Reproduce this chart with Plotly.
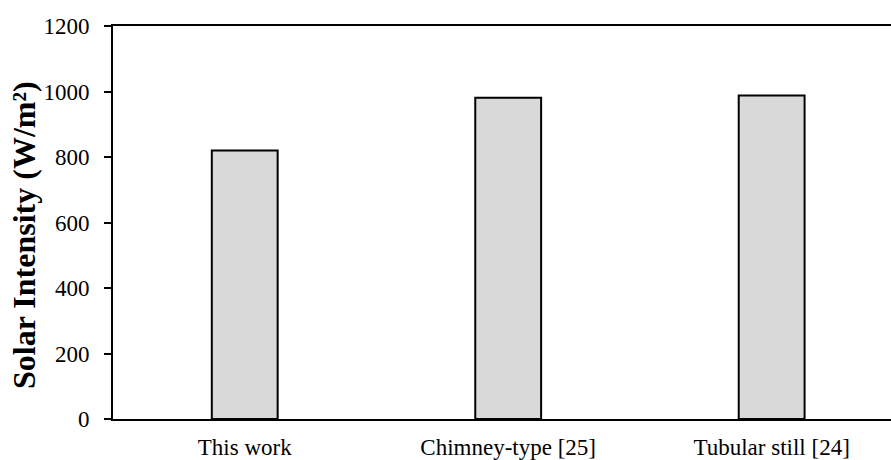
import plotly.graph_objects as go

categories = ["This work", "Chimney-type [25]", "Tubular still [24]"]
solar_intensity = [820, 981, 988]
y_ticks = [0, 200, 400, 600, 800, 1000, 1200]
y_title = "Solar Intensity (W/m²)"

font_family = "Liberation Serif, Times New Roman, serif"

fig = go.Figure(
    go.Bar(
        x=list(range(len(categories))),
        y=solar_intensity,
        width=0.25,
        marker=dict(color="#d9d9d9", line=dict(color="black", width=2)),
    )
)

fig.update_layout(
    width=891,
    height=460,
    margin=dict(l=113, r=0, t=26, b=41),
    plot_bgcolor="white",
    paper_bgcolor="white",
    showlegend=False,
    font=dict(family=font_family, size=23, color="black"),
)

fig.update_xaxes(
    range=[-0.5, 2.453],
    tickmode="array",
    tickvals=list(range(len(categories))),
    ticktext=categories,
    showline=True,
    linecolor="black",
    linewidth=2,
    mirror=True,
    ticks="",
    ticklabelstandoff=6,
    showgrid=False,
    zeroline=False,
    automargin=False,
    tickfont=dict(family=font_family, size=23),
)

fig.update_yaxes(
    range=[0, 1200],
    tickmode="array",
    tickvals=y_ticks,
    showline=True,
    linecolor="black",
    linewidth=2,
    ticks="outside",
    ticklen=7,
    tickwidth=2,
    tickcolor="black",
    ticklabelstandoff=10,
    showgrid=False,
    zeroline=False,
    automargin=False,
    tickfont=dict(family=font_family, size=23),
)

# Rotated y-axis title, placed slightly below the axis midpoint
fig.add_annotation(
    text=f"<b>{y_title}</b>",
    xref="paper",
    yref="paper",
    x=-0.1145,
    y=0.468,
    xanchor="center",
    yanchor="middle",
    textangle=-90,
    showarrow=False,
    font=dict(family=font_family, size=32, color="black"),
)

fig.write_html("out.html")
